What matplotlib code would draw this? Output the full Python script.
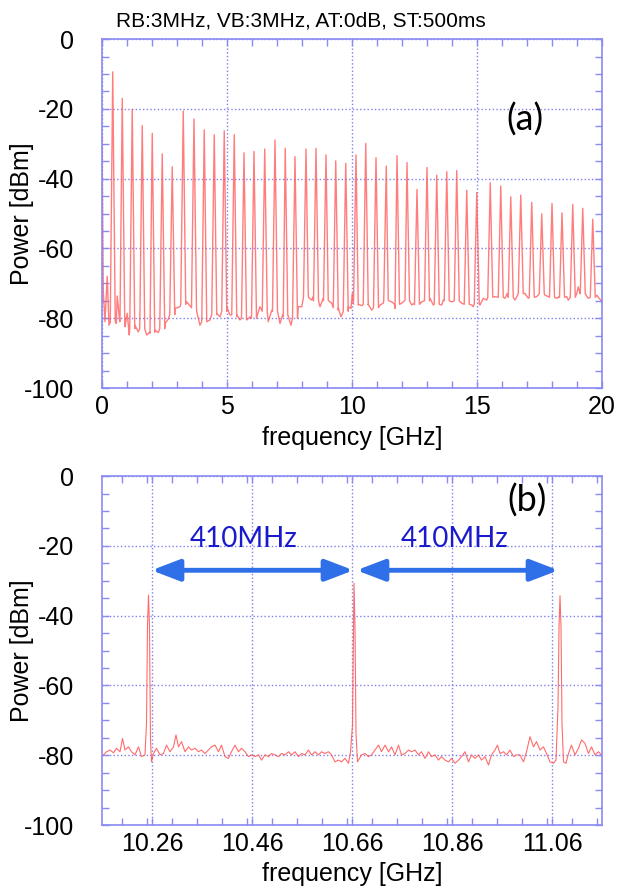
import numpy as np
import matplotlib
matplotlib.use('Agg')
import matplotlib.pyplot as plt
from matplotlib.ticker import MultipleLocator, FixedLocator

plt.rcParams['font.family'] = ['Liberation Sans', 'DejaVu Sans']
plt.rcParams['axes.unicode_minus'] = False

# ---- (a) wide span: comb lines 0-20 GHz ----
peak_ghz = [0.43, 0.81, 1.21, 1.61, 2.01, 2.41, 2.81, 3.25, 3.68, 4.09, 4.49, 4.89,
            5.29, 5.68, 6.08, 6.51, 6.92, 7.33, 7.72, 8.16, 8.56, 8.96, 9.35, 9.75,
            10.16, 10.55, 10.96, 11.37, 11.80, 12.20, 12.60, 13.00, 13.39, 13.79, 14.19, 14.59,
            14.99, 15.53, 15.95, 16.35, 16.75, 17.19, 17.59, 18.00, 18.40, 18.83, 19.23, 19.63]
peak_dbm = [-9.4, -17.0, -20.1, -24.8, -27.0, -32.9, -36.6, -20.6, -22.9, -26.0, -27.4, -26.3,
            -27.4, -32.6, -32.2, -31.5, -28.9, -31.3, -33.7, -31.5, -31.3, -33.2, -34.9, -35.6,
            -33.2, -29.9, -34.0, -36.4, -33.4, -35.4, -43.1, -36.8, -39.0, -38.0, -37.7, -43.3,
            -44.0, -41.2, -42.1, -45.2, -44.7, -46.8, -50.1, -47.1, -49.8, -47.4, -48.5, -51.6]
peak_base_dbm = [-81, -81, -83, -83, -84, -83, -79, -76, -77, -81, -79, -78,
                 -79, -80, -80, -78, -78, -79, -80, -74, -75, -75, -77, -78,
                 -76, -76, -77, -75, -76, -75, -76, -75, -76, -75, -75, -76,
                 -76, -74, -74, -74, -73, -74, -73, -74, -74, -74, -73, -74]
floor_ghz = [0.0, 0.05, 0.12, 0.21, 0.28, 0.33, 0.57, 0.61, 0.72, 0.92, 1.01, 1.09,
             1.32, 1.45, 1.79, 1.92, 2.12, 2.25, 2.52, 2.65, 2.92, 3.12, 3.39, 3.55,
             3.79, 3.92, 4.32, 4.59, 4.72, 4.99, 5.12, 5.39, 5.52, 5.79, 5.92, 6.19,
             6.32, 6.65, 6.79, 7.12, 7.25, 7.56, 7.85, 7.99, 8.25, 8.39, 8.45, 8.72,
             8.85, 9.05, 9.19, 9.45, 9.56, 9.65, 9.85, 9.96, 10.01, 10.25, 10.39, 10.65,
             10.79, 11.12, 11.25, 11.45, 11.59, 11.72, 11.99, 12.12, 12.39, 12.49, 12.79, 13.12,
             13.25, 13.59, 13.65, 13.99, 14.39, 14.79, 14.85, 15.12, 15.25, 15.39, 15.72, 16.12,
             16.21, 16.52, 16.59, 16.92, 17.05, 17.39, 17.72, 17.85, 18.19, 18.29, 18.59, 18.65,
             18.99, 19.05, 19.12, 19.45, 19.79, 20.0]
floor_dbm = [-27.5, -72.0, -81.0, -68.0, -82.0, -81.3, -81.5, -73.6, -80.5, -82.4, -78.6, -84.8,
             -82.0, -83.9, -84.8, -84.3, -83.4, -84.1, -81.5, -80.3, -77.2, -76.7, -75.3, -76.7,
             -78.1, -82.0, -80.5, -78.6, -79.6, -76.7, -79.1, -79.6, -80.5, -80.5, -79.6, -79.6,
             -76.7, -81.0, -77.7, -81.5, -79.6, -82.0, -76.7, -76.7, -72.9, -74.8, -73.8, -76.7,
             -74.3, -74.8, -75.7, -77.7, -79.6, -78.1, -76.7, -77.2, -72.9, -76.2, -76.4, -76.2,
             -77.7, -76.2, -75.7, -74.8, -75.3, -77.2, -75.7, -74.8, -76.2, -75.7, -75.3, -74.3,
             -76.2, -76.2, -74.8, -75.3, -75.7, -76.2, -76.7, -76.2, -74.3, -74.8, -73.8, -74.3,
             -72.9, -74.8, -73.8, -72.9, -74.3, -73.8, -73.4, -73.8, -74.3, -73.8, -73.8, -74.8,
             -72.9, -71.0, -72.9, -74.3, -73.4, -75.3]

# ---- (b) zoomed span around 10.66 GHz ----
b_ghz = [10.163, 10.169, 10.176, 10.183, 10.189, 10.196, 10.201, 10.206, 10.213, 10.219,
         10.226, 10.233, 10.239, 10.246, 10.249, 10.251, 10.253, 10.255, 10.257, 10.259,
         10.263, 10.269, 10.276, 10.283, 10.289, 10.296, 10.303, 10.308, 10.313, 10.319,
         10.326, 10.333, 10.339, 10.346, 10.353, 10.359, 10.366, 10.373, 10.379, 10.386,
         10.393, 10.399, 10.406, 10.413, 10.419, 10.426, 10.433, 10.439, 10.446, 10.453,
         10.459, 10.466, 10.473, 10.479, 10.486, 10.493, 10.499, 10.506, 10.513, 10.519,
         10.526, 10.533, 10.539, 10.546, 10.553, 10.559, 10.566, 10.573, 10.579, 10.586,
         10.593, 10.599, 10.606, 10.613, 10.619, 10.626, 10.633, 10.639, 10.646, 10.653,
         10.657, 10.661, 10.663, 10.664, 10.666, 10.668, 10.671, 10.679, 10.686, 10.693,
         10.699, 10.706, 10.713, 10.719, 10.726, 10.733, 10.739, 10.746, 10.753, 10.759,
         10.766, 10.773, 10.779, 10.786, 10.793, 10.799, 10.806, 10.813, 10.819, 10.826,
         10.833, 10.839, 10.846, 10.853, 10.859, 10.866, 10.873, 10.879, 10.886, 10.893,
         10.899, 10.906, 10.913, 10.919, 10.926, 10.933, 10.939, 10.946, 10.951, 10.956,
         10.963, 10.969, 10.976, 10.983, 10.989, 10.996, 11.003, 11.009, 11.016, 11.023,
         11.029, 11.036, 11.043, 11.049, 11.056, 11.063, 11.068, 11.072, 11.074, 11.076,
         11.078, 11.080, 11.083, 11.088, 11.093, 11.099, 11.106, 11.113, 11.119, 11.126,
         11.133, 11.139, 11.146, 11.153, 11.159]
b_dbm = [-79.9, -79.0, -78.5, -79.3, -78.0, -79.0, -75.2, -78.5, -77.6, -79.0,
         -79.9, -77.6, -80.4, -79.9, -70.9, -43.2, -34.1, -43.2, -75.6, -81.9,
         -79.5, -78.0, -79.9, -79.5, -77.1, -79.0, -77.6, -74.2, -77.6, -76.1,
         -79.0, -77.6, -78.5, -78.0, -79.0, -78.5, -79.5, -78.5, -77.6, -77.1,
         -79.0, -77.1, -80.4, -80.9, -79.0, -77.1, -79.0, -78.0, -79.0, -80.4,
         -79.9, -80.4, -79.9, -81.4, -79.9, -80.4, -79.5, -79.9, -80.4, -79.5,
         -79.9, -79.0, -79.9, -79.0, -80.4, -79.5, -79.9, -78.5, -79.9, -79.0,
         -79.9, -79.0, -79.5, -79.0, -79.9, -81.9, -81.4, -81.9, -80.9, -82.3,
         -79.0, -71.4, -43.2, -30.7, -43.2, -73.7, -81.9, -79.9, -79.5, -80.4,
         -79.9, -78.5, -77.1, -79.0, -77.1, -79.0, -77.6, -79.9, -77.1, -79.9,
         -79.5, -78.5, -79.0, -78.5, -79.9, -79.0, -80.9, -79.0, -80.4, -79.9,
         -81.4, -80.4, -81.4, -81.9, -80.9, -82.3, -81.4, -80.4, -79.0, -81.9,
         -79.9, -80.9, -79.9, -81.4, -80.4, -82.8, -79.9, -78.5, -77.1, -79.5,
         -79.0, -79.9, -78.5, -80.4, -79.9, -79.9, -81.9, -79.0, -74.7, -77.6,
         -76.1, -78.5, -77.6, -79.5, -81.9, -82.3, -81.4, -66.1, -43.2, -34.3,
         -43.2, -70.9, -81.9, -82.3, -79.5, -77.1, -79.9, -78.0, -75.6, -76.6,
         -79.5, -77.6, -79.9, -79.0, -79.9]

arrow_spans = [(10.259, 10.663), (10.669, 11.073)]
arrow_dbm = -27.0
span_label_ghz = [10.444, 10.866]
span_label_dbm = -17.9
span_text = '410MHz'

TRACE = '#ff5c5c'
FRAME = '#8a8af2'
GRID = '#7f7fee'
SPIKE_HALF = 0.1

fig = plt.figure(figsize=(6.17, 8.90), dpi=100)
ax1 = fig.add_axes([0.1653, 0.5640, 0.8104, 0.3921])
ax2 = fig.add_axes([0.1653, 0.0730, 0.8104, 0.3921])

pts = list(zip(floor_ghz, floor_dbm))
for f, p, b in zip(peak_ghz, peak_dbm, peak_base_dbm):
    pts += [(f - SPIKE_HALF, b), (f, p), (f + SPIKE_HALF, b)]
pts.sort()
ax1.plot([q[0] for q in pts], [q[1] for q in pts], color=TRACE, lw=1.0, alpha=0.8)
ax2.plot(b_ghz, b_dbm, color=TRACE, lw=0.8, alpha=0.9)

for ax in (ax1, ax2):
    ax.set_ylim(-100, 0)
    ax.yaxis.set_major_locator(MultipleLocator(20))
    ax.yaxis.set_minor_locator(MultipleLocator(5))
    ax.grid(True, which='major', color=GRID, ls=':', lw=1.0)
    for s in ax.spines.values():
        s.set_color(FRAME); s.set_linewidth(1.2)
    ax.tick_params(which='both', direction='in', top=True, right=True, color=FRAME,
                   length=5, width=1, labelsize=18)
    ax.tick_params(axis='y', pad=20)
    ax.tick_params(axis='x', pad=5)
    ax.set_ylabel('Power [dBm]', fontsize=18, va='center')
    ax.yaxis.set_label_coords(-0.16, 0.5)
    ax.set_xlabel('frequency [GHz]', fontsize=18)

ax1.set_xlim(0, 20)
ax1.xaxis.set_major_locator(MultipleLocator(5))
ax1.xaxis.set_minor_locator(MultipleLocator(1))
ax1.xaxis.set_label_coords(0.5, -0.11)
ax1.text(16.9, -23.2, '(a)', fontsize=26, family=['Lato', 'DejaVu Sans'],
         ha='center', va='center')

ax2.set_xlim(10.16, 11.16)
ax2.xaxis.set_major_locator(FixedLocator([10.26, 10.46, 10.66, 10.86, 11.06]))
ax2.xaxis.set_minor_locator(MultipleLocator(0.05))
ax2.set_xticklabels(['10.26', '10.46', '10.66', '10.86', '11.06'])
ax2.xaxis.set_label_coords(0.5, -0.105)
ax2.text(11.01, -6.9, '(b)', fontsize=26, family=['Lato', 'DejaVu Sans'],
         ha='center', va='center')

for (x0, x1), xt in zip(arrow_spans, span_label_ghz):
    ax2.annotate('', xy=(x1, arrow_dbm), xytext=(x0, arrow_dbm),
                 arrowprops=dict(arrowstyle='<|-|>,head_length=1.7,head_width=0.65',
                                 color='#2f6fe8', lw=3.5, shrinkA=0, shrinkB=0))
    ax2.text(xt, span_label_dbm, span_text, fontsize=20, color='#1a1acd',
             family=['Lato', 'DejaVu Sans'], ha='center', va='center')

fig.text(301 / 617, 1 - 21 / 890, 'RB:3MHz, VB:3MHz, AT:0dB, ST:500ms',
         fontsize=15, ha='center', va='center')

fig.savefig('out.png', dpi=100)
